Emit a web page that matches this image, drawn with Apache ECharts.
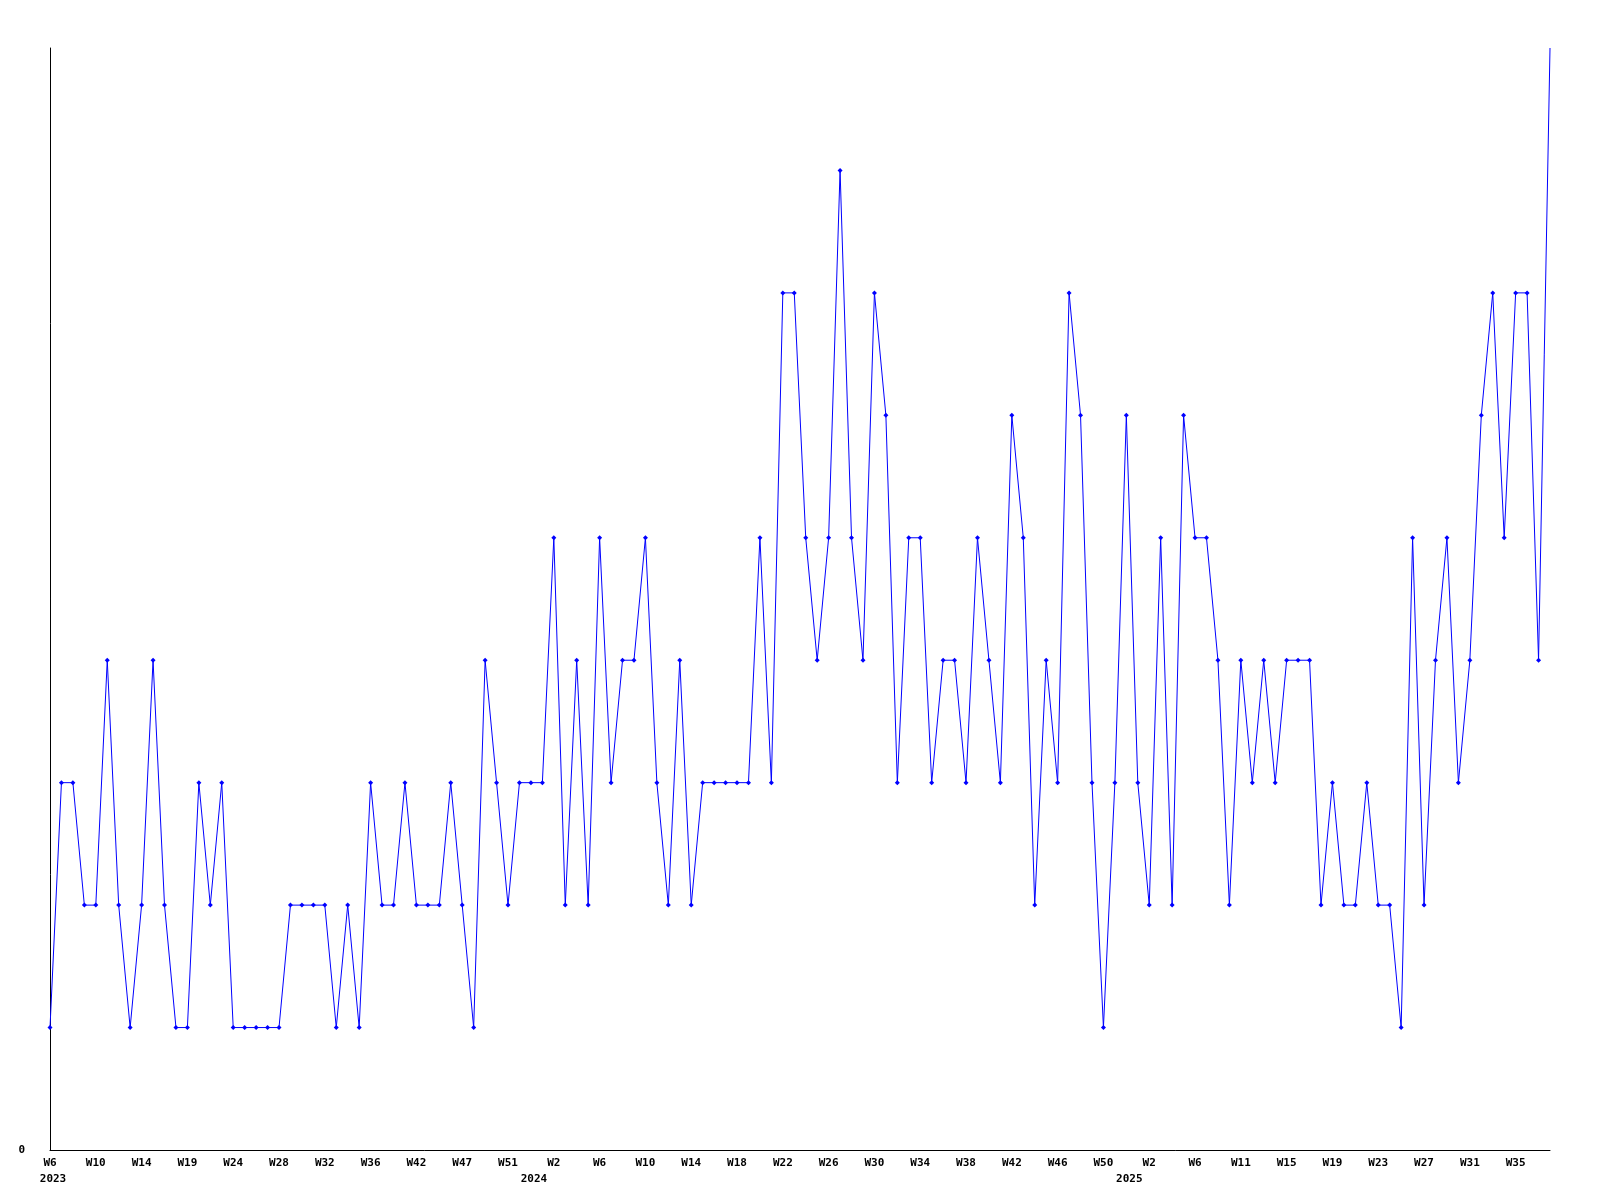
<!DOCTYPE html>
<html>
<head>
<meta charset="utf-8">
<script src="https://cdn.jsdelivr.net/npm/echarts@6/dist/echarts.min.js"></script>
<style>
  html, body { margin: 0; padding: 0; background: #fff; }
  #chart { width: 1600px; height: 1200px; }
</style>
</head>
<body>
<div id="chart"></div>
<script>
// Categories: year-week keys present in the data (weeks without data are absent)
const categories = [
  '2023-W6','2023-W7','2023-W8','2023-W9','2023-W10','2023-W11','2023-W12','2023-W13','2023-W14',
  '2023-W15','2023-W16','2023-W18','2023-W19','2023-W20','2023-W21','2023-W23','2023-W24',
  '2023-W25','2023-W26','2023-W27','2023-W28','2023-W29','2023-W30','2023-W31','2023-W32',
  '2023-W33','2023-W34','2023-W35','2023-W36','2023-W37','2023-W39','2023-W41','2023-W42',
  '2023-W43','2023-W44','2023-W45','2023-W47','2023-W48','2023-W49','2023-W50','2023-W51','2023-W52',
  '2024-W0','2024-W1','2024-W2','2024-W3','2024-W4','2024-W5','2024-W6','2024-W7','2024-W8','2024-W9',
  '2024-W10','2024-W11','2024-W12','2024-W13','2024-W14','2024-W15','2024-W16','2024-W17','2024-W18',
  '2024-W19','2024-W20','2024-W21','2024-W22','2024-W23','2024-W24','2024-W25','2024-W26','2024-W27',
  '2024-W28','2024-W29','2024-W30','2024-W31','2024-W32','2024-W33','2024-W34','2024-W35','2024-W36',
  '2024-W37','2024-W38','2024-W39','2024-W40','2024-W41','2024-W42','2024-W43','2024-W44','2024-W45',
  '2024-W46','2024-W47','2024-W48','2024-W49','2024-W50','2024-W51',
  '2025-W0','2025-W1','2025-W2','2025-W3','2025-W4','2025-W5','2025-W6','2025-W7','2025-W8','2025-W10',
  '2025-W11','2025-W12','2025-W13','2025-W14','2025-W15','2025-W16','2025-W17','2025-W18','2025-W19',
  '2025-W20','2025-W21','2025-W22','2025-W23','2025-W24','2025-W25','2025-W26','2025-W27','2025-W28',
  '2025-W29','2025-W30','2025-W31','2025-W32','2025-W33','2025-W34','2025-W35','2025-W36','2025-W37','2025-W38'
];

// Weekly counts
const values = [
  1,3,3,2,2,4,2,1,2,4,
  2,1,1,3,2,3,1,1,1,1,
  1,2,2,2,2,1,2,1,3,2,
  2,3,2,2,2,3,2,1,4,3,
  2,3,3,3,5,2,4,2,5,3,
  4,4,5,3,2,4,2,3,3,3,
  3,3,5,3,7,7,5,4,5,8,
  5,4,7,6,3,5,5,3,4,4,
  3,5,4,3,6,5,2,4,3,7,
  6,3,1,3,6,3,2,5,2,6,
  5,5,4,2,4,3,4,3,4,4,
  4,2,3,2,2,3,2,2,1,5,
  2,4,5,3,4,6,7,5,7,7,
  4,9
];

// Y axis tick labels shown
const yTicks = [0];

const weekOf = c => c.split('-')[1];
const yearOf = c => c.split('-')[0];

const font = { fontFamily: 'DejaVu Sans Mono', fontWeight: 'bold', fontSize: 11, color: '#000' };

const chart = echarts.init(document.getElementById('chart'), null, { renderer: 'canvas' });
const last = values.length - 1;
chart.setOption({
  animation: false,
  backgroundColor: '#fff',
  grid: { left: 50, right: 50, top: 48, bottom: 50, containLabel: false },
  xAxis: [
    {
      type: 'category',
      data: categories,
      boundaryGap: false,
      position: 'bottom',
      axisLine: { show: true, lineStyle: { color: '#000', width: 1 } },
      axisTick: { show: false },
      splitLine: { show: false },
      axisLabel: Object.assign({
        interval: 3,
        margin: 8,
        formatter: v => weekOf(v)
      }, font)
    },
    {
      type: 'category',
      data: categories,
      boundaryGap: false,
      position: 'bottom',
      axisLine: { show: false },
      axisTick: { show: false },
      splitLine: { show: false },
      axisLabel: Object.assign({
        margin: 24,
        interval: (i, v) => i === 0 || yearOf(categories[i - 1]) !== yearOf(v),
        formatter: v => yearOf(v),
        padding: [0, 0, 0, 6]
      }, font)
    }
  ],
  yAxis: {
    type: 'value',
    min: 0,
    max: 9,
    interval: 9,
    axisLine: { show: true, lineStyle: { color: '#000', width: 1 } },
    axisTick: { show: false },
    splitLine: { show: false },
    axisLabel: Object.assign({
      margin: 25,
      formatter: v => (yTicks.indexOf(v) >= 0 ? String(v) : '')
    }, font)
  },
  series: [{
    type: 'line',
    xAxisIndex: 0,
    data: values.map((v, i) => i === last ? { value: v, symbol: 'none' } : v),
    symbol: 'diamond',
    symbolSize: 5,
    showAllSymbol: true,
    lineStyle: { color: '#0000ff', width: 1 },
    itemStyle: { color: '#0000ff' }
  }]
});
</script>
</body>
</html>
